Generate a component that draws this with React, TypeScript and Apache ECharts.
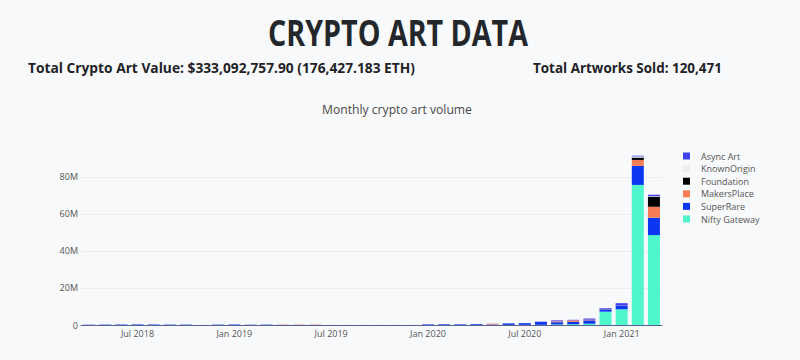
import React, { useEffect, useRef } from 'react';
import * as echarts from 'echarts';

const months = [
  '2018-04', '2018-05', '2018-06', '2018-07', '2018-08', '2018-09', '2018-10', '2018-11', '2018-12',
  '2019-01', '2019-02', '2019-03', '2019-04', '2019-05', '2019-06', '2019-07', '2019-08', '2019-09',
  '2019-10', '2019-11', '2019-12', '2020-01', '2020-02', '2020-03', '2020-04', '2020-05', '2020-06',
  '2020-07', '2020-08', '2020-09', '2020-10', '2020-11', '2020-12', '2021-01', '2021-02', '2021-03',
];
const tickMonths = ['2018-07', '2019-01', '2019-07', '2020-01', '2020-07', '2021-01'];
const monthNames = ['Jan', 'Feb', 'Mar', 'Apr', 'May', 'Jun', 'Jul', 'Aug', 'Sep', 'Oct', 'Nov', 'Dec'];
const yTicks = [0, 20, 40, 60, 80]; // USD millions

// Monthly volume in USD millions
const niftyGateway = [
  0, 0, 0, 0, 0, 0, 0, 0, 0,
  0, 0, 0, 0, 0, 0, 0, 0, 0,
  0, 0, 0, 0, 0, 0.05, 0.05, 0.05, 0.05,
  0.1, 0.1, 0.3, 0.4, 0.7, 7.2, 8.5, 75.7, 48.6,
];
const superRare = [
  0.15, 0.2, 0.25, 0.3, 0.25, 0.2, 0.2, 0, 0.2,
  0.25, 0.2, 0.2, 0.05, 0.05, 0.05, 0, 0, 0,
  0, 0, 0, 0.3, 0.35, 0.3, 0.4, 0.2, 0.8,
  0.9, 1.5, 1.2, 1.3, 1.8, 1.3, 2.0, 10.3, 9.4,
];
const makersPlace = [
  0, 0, 0, 0, 0, 0, 0, 0, 0,
  0, 0, 0, 0.15, 0.15, 0.15, 0, 0, 0,
  0, 0, 0, 0, 0, 0, 0, 0.4, 0,
  0, 0, 0.5, 0.8, 0.4, 0.2, 0.1, 3.2, 5.9,
];
const foundation = [
  0, 0, 0, 0, 0, 0, 0, 0, 0,
  0, 0, 0, 0, 0, 0, 0, 0, 0,
  0, 0, 0, 0, 0, 0, 0, 0, 0,
  0, 0, 0, 0, 0, 0, 0, 1.3, 5.4,
];
const knownOrigin = [
  0, 0, 0, 0, 0, 0, 0, 0.1, 0,
  0, 0, 0, 0, 0, 0, 0.1, 0.1, 0.1,
  0.1, 0.1, 0.1, 0, 0, 0, 0, 0, 0,
  0, 0, 0, 0, 0, 0, 0, 0.6, 0.3,
];
const asyncArt = [
  0, 0, 0, 0, 0, 0, 0, 0, 0,
  0, 0, 0, 0, 0, 0, 0, 0, 0,
  0, 0, 0, 0, 0.05, 0.05, 0.05, 0.05, 0.05,
  0.05, 0.2, 0.5, 0.3, 0.6, 0.4, 1.2, 0.4, 0.8,
];

const seriesDefs = [
  { name: 'Nifty Gateway', data: niftyGateway, color: '#4ff5cb' },
  { name: 'SuperRare', data: superRare, color: '#0b36f2' },
  { name: 'MakersPlace', data: makersPlace, color: '#f77b55' },
  { name: 'Foundation', data: foundation, color: '#000000' },
  { name: 'KnownOrigin', data: knownOrigin, color: '#eeeeee' },
  { name: 'Async Art', data: asyncArt, color: '#4141f0' },
];
const legendOrder = ['Async Art', 'KnownOrigin', 'Foundation', 'MakersPlace', 'SuperRare', 'Nifty Gateway'];

const headTitle = 'CRYPTO ART DATA';
const statValue = 'Total Crypto Art Value: $333,092,757.90 (176,427.183 ETH)';
const statSold = 'Total Artworks Sold: 120,471';
const chartTitle = 'Monthly crypto art volume';

const FONT = '"Open Sans", "Noto Sans", sans-serif';

function measure(text: string, size: number, weight: string): number {
  const c = document.createElement('canvas');
  const ctx = c.getContext('2d');
  if (!ctx) return text.length * size * 0.55;
  ctx.font = `${weight} ${size}px "Open Sans"`;
  return ctx.measureText(text).width;
}

function fitText(text: string, x: number, y: number, size: number, weight: string, color: string, width: number, align: string) {
  const w = measure(text, size, weight);
  return {
    type: 'text',
    x,
    y,
    scaleX: width / w,
    style: {
      text,
      fontFamily: FONT,
      fontSize: size,
      fontWeight: weight,
      fill: color,
      textAlign: align,
      textVerticalAlign: 'middle',
    },
  };
}

export default function App() {
  const ref = useRef<HTMLDivElement>(null);
  useEffect(() => {
    if (!ref.current) return;
    const chart = echarts.init(ref.current, undefined, { renderer: 'svg' });
    const option: any = {
      animation: false,
      backgroundColor: '#f8f9fa',
      textStyle: { fontFamily: FONT },
      graphic: [
        fitText(headTitle, 398, 32, 36, 'bold', '#23272b', 260, 'center'),
        fitText(statValue, 28, 67, 14, 'bold', '#1f2226', 387, 'left'),
        fitText(statSold, 533, 67, 14, 'bold', '#1f2226', 189, 'left'),
        fitText(chartTitle, 397, 109, 13, 'normal', '#4a4a4a', 150, 'center'),
      ],
      legend: {
        data: legendOrder,
        orient: 'vertical',
        left: 683,
        top: 151,
        padding: 0,
        itemWidth: 7,
        itemHeight: 7,
        itemGap: 2.6,
        icon: 'rect',
        selectedMode: false,
        textStyle: { fontSize: 9, color: '#555', lineHeight: 10, padding: [0, 0, 0, 6], fontFamily: FONT },
      },
      grid: { left: 81, right: 138, top: 147, bottom: 35, containLabel: false },
      xAxis: {
        type: 'category',
        data: months,
        boundaryGap: true,
        axisLine: { show: true, lineStyle: { color: '#56648f', width: 1 } },
        axisTick: { show: false },
        axisLabel: {
          interval: (_i: number, v: string) => tickMonths.includes(v),
          formatter: (v: string) => `${monthNames[parseInt(v.slice(5), 10) - 1]} ${v.slice(0, 4)}`,
          fontSize: 9,
          color: '#555',
          margin: 4,
          fontFamily: FONT,
        },
        splitLine: { show: false },
      },
      yAxis: {
        type: 'value',
        min: 0,
        max: 96.2,
        interval: 20,
        axisLine: { show: false },
        axisTick: { show: false },
        axisLabel: {
          fontSize: 9,
          color: '#555',
          margin: 3,
          fontFamily: FONT,
          formatter: (v: number) => (yTicks.includes(v) ? (v === 0 ? '0' : `${v}M`) : ''),
        },
        splitLine: {
          show: true,
          lineStyle: { color: ['transparent', '#ebedef', '#ebedef', '#ebedef', '#ebedef', 'transparent'], width: 1 },
        },
      },
      series: seriesDefs.map((s) => ({
        name: s.name,
        type: 'bar',
        stack: 'total',
        barWidth: 12,
        data: s.data,
        itemStyle: { color: s.color },
        emphasis: { disabled: true },
      })),
    };
    chart.setOption(option);
    return () => chart.dispose();
  }, []);
  return (
    <div
      ref={ref}
      style={{ position: 'fixed', left: 0, top: 0, width: 800, height: 360, background: '#f8f9fa' }}
    />
  );
}
